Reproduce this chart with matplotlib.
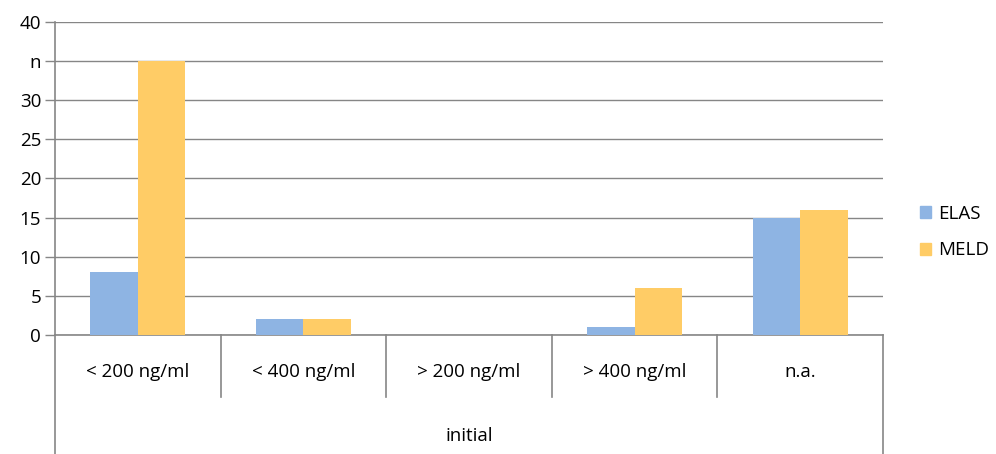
import numpy as np
import matplotlib.pyplot as plt
from matplotlib.patches import Patch

plt.rcParams['font.family'] = ['Open Sans', 'DejaVu Sans']

# data
categories = ['< 200 ng/ml', '< 400 ng/ml', '> 200 ng/ml', '> 400 ng/ml', 'n.a.']
group_label = 'initial'
elas = [8, 2, 0, 1, 15]
meld = [35, 2, 0, 6, 16]
y_ticks = [0, 5, 10, 15, 20, 25, 30, 35, 40]
y_tick_labels = ['0', '5', '10', '15', '20', '25', '30', 'n', '40']

BLUE = '#8EB4E3'
ORANGE = '#FFCC66'
GRAY = '#868686'
FS = 13.5

fig = plt.figure(figsize=(9.96, 4.54), dpi=100)
ax = fig.add_axes([55 / 996, 1 - 335 / 454, 828 / 996, 313 / 454])

x = np.arange(len(categories))
w = 0.287
ax.bar(x - w / 2, elas, width=w, color=BLUE, label='ELAS', zorder=3)
ax.bar(x + w / 2, meld, width=w, color=ORANGE, label='MELD', zorder=3)

ax.set_xlim(-0.5, len(categories) - 0.5)
ax.set_ylim(0, 40)
ax.set_yticks(y_ticks)
ax.set_yticklabels(y_tick_labels, fontsize=FS)
ax.yaxis.grid(True, color=GRAY, linewidth=1.0, zorder=0)
ax.set_axisbelow(True)
ax.tick_params(axis='y', length=7, color=GRAY, width=1.0, pad=3)
ax.set_xticks([])

for s in ['top', 'right']:
    ax.spines[s].set_visible(False)
for s in ['left', 'bottom']:
    ax.spines[s].set_color(GRAY)
    ax.spines[s].set_linewidth(1.2)

# category axis drawn below the plot
trans = ax.get_xaxis_transform()
for i in range(len(categories) + 1):
    b = i - 0.5
    low = -0.38 if i in (0, len(categories)) else -0.198
    ax.plot([b, b], [0, low], transform=trans, color=GRAY, lw=1.2,
            clip_on=False)
for i, c in enumerate(categories):
    ax.text(i, -0.118, c, transform=trans, ha='center', va='center',
            fontsize=FS)
ax.text((len(categories) - 1) / 2, -0.322, group_label, transform=trans,
        ha='center', va='center', fontsize=FS)

handles = [Patch(color=BLUE, label='ELAS'), Patch(color=ORANGE, label='MELD')]
fig.legend(handles=handles, loc='center left', bbox_to_anchor=(903 / 996, 1 - 232 / 454),
           frameon=False, fontsize=FS, handlelength=0.6, handleheight=0.6,
           handletextpad=0.35, labelspacing=1.0)

fig.savefig('out.png', dpi=100)
